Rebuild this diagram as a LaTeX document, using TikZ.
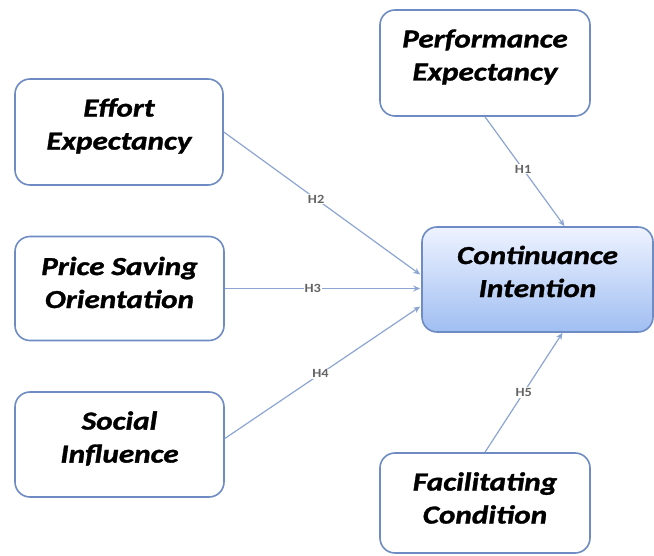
\documentclass[tikz,border=0pt]{standalone}
\usepackage{fontspec}
\newfontfamily\boxfont{Carlito}[FakeStretch=1.2, FakeBold=1.2]
\newfontfamily\labfont{Carlito}[FakeStretch=1.15]
\usetikzlibrary{calc,arrows.meta}
\definecolor{boxline}{RGB}{110,140,195}
\definecolor{arrline}{RGB}{140,165,210}
\definecolor{gradtop}{RGB}{238,243,255}
\definecolor{gradbot}{RGB}{160,190,242}
\definecolor{labgray}{RGB}{100,100,100}
\tikzset{
  construct/.style={draw=boxline, line width=1.6pt, rounded corners=15pt, inner sep=0pt},
  target/.style={construct, top color=gradtop, bottom color=gradbot},
  boxtext/.style={align=center, font=\boxfont\bfseries\itshape\fontsize{26}{33}\selectfont, text=black, inner sep=0pt},
  arr/.style={draw=arrline, line width=1.2pt, -{Stealth[length=7pt,width=6pt]}},
  hyp/.style={fill=white, font=\labfont\bfseries\fontsize{12.5}{12.5}\selectfont, text=labgray, inner sep=1pt}
}
\begin{document}
\begin{tikzpicture}[x=1pt,y=1pt]
\useasboundingbox (0,0) rectangle (654,555);
\node[construct, minimum width=210pt, minimum height=106pt] (pe) at (485,492) {};
\node[construct, minimum width=208pt, minimum height=106pt] (ee) at (119,423) {};
\node[construct, minimum width=209pt, minimum height=104pt] (ps) at (119.5,266.5) {};
\node[construct, minimum width=209pt, minimum height=105pt] (si) at (119.5,110.5) {};
\node[target, minimum width=231pt, minimum height=105pt] (ci) at (537.5,275.5) {};
\node[construct, minimum width=210pt, minimum height=100pt] (fc) at (485,52) {};

\node[boxtext] (pe-t) at ($(pe.center)+(0,6)$) {Performance\\Expectancy};
\node[boxtext] (ee-t) at ($(ee.center)+(0,6)$) {Effort\\Expectancy};
\node[boxtext] (ps-t) at ($(ps.center)+(0,6)$) {Price Saving\\Orientation};
\node[boxtext] (si-t) at ($(si.center)+(0,6)$) {Social\\Influence};
\node[boxtext] (ci-t) at ($(ci.center)+(0,8)$) {Continuance\\Intention};
\node[boxtext] (fc-t) at ($(fc.center)+(0,5)$) {Facilitating\\Condition};

\draw[arr] (pe.south) -- node[hyp, pos=0.48] {H1} ($(ci.north)+(27,0)$);
\draw[arr] (ee.east) -- node[hyp, pos=0.47] {H2} ($(ci.west)+(-1,5)$);
\draw[arr] (ps.east) -- node[hyp, pos=0.45] {H3} ($(ci.west)+(-1,-9)$);
\draw[arr] ($(si.east)+(0,6)$) -- node[hyp, pos=0.49] {H4} ($(ci.west)+(-1,-27)$);
\draw[arr] (fc.north) -- node[hyp, pos=0.5] {H5} ($(ci.south)+(25,0)$);
\end{tikzpicture}
\end{document}
